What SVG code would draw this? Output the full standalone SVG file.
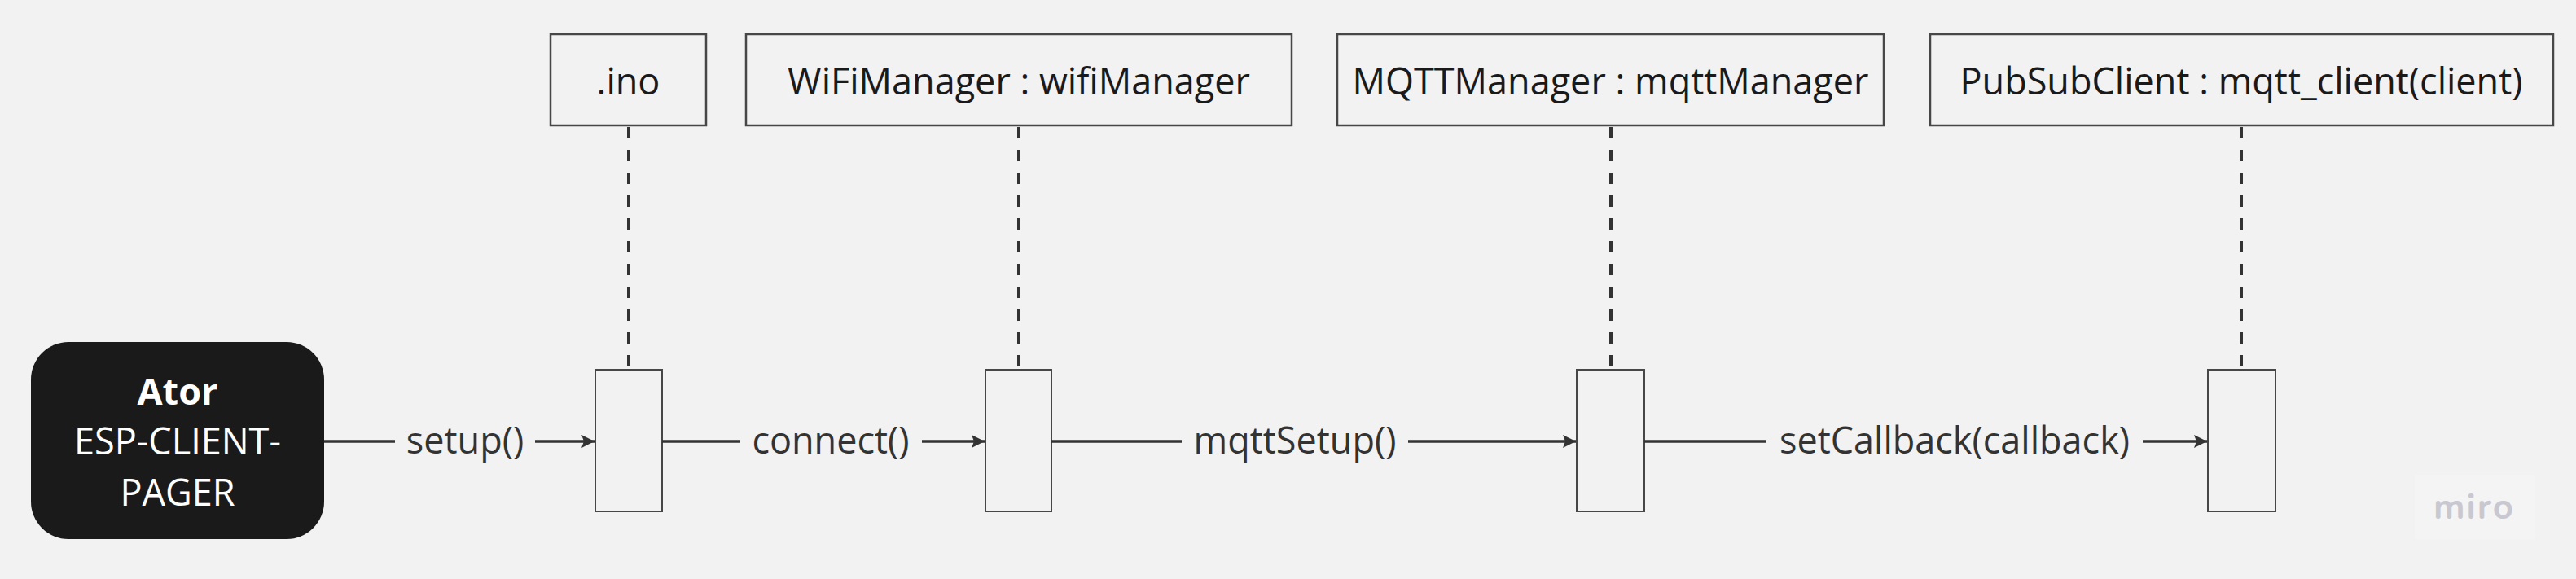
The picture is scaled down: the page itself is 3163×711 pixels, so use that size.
<svg xmlns="http://www.w3.org/2000/svg" width="3163" height="711" viewBox="0 0 3163 711">
<defs>
<style>
.bg{fill:#f2f2f2}
.obj{fill:#f2f2f2;stroke:#474747;stroke-width:2.5}
.act{fill:#f2f2f2;stroke:#474747;stroke-width:2}
.life{stroke:#333;stroke-width:4;stroke-dasharray:14 14;fill:none}
.msg{stroke:#333;stroke-width:3.5;fill:none}
.t{font-family:"Open Sans","Noto Sans","Liberation Sans",sans-serif;font-size:45px;fill:#1a1a1a;text-anchor:middle}
.lbl{font-family:"Open Sans","Noto Sans","Liberation Sans",sans-serif;font-size:45px;fill:#333;text-anchor:middle}
.w{fill:#ffffff}
</style>
<marker id="arr" markerUnits="userSpaceOnUse" markerWidth="20" markerHeight="20" viewBox="0 0 20 20" refX="17" refY="10" orient="auto">
<path d="M1,2 L17,10 L1,18 L4,10 Z" fill="#333"/>
</marker>
</defs>
<rect class="bg" x="0" y="0" width="3163" height="711"/>

<g id="actor">
<rect x="38" y="420" width="360" height="242" rx="46" ry="46" fill="#1a1a1a"/>
<text class="t w" x="218" y="497" font-weight="bold">Ator</text>
<text class="t w" x="218" y="558">ESP-CLIENT-</text>
<text class="t w" x="218" y="621">PAGER</text>
</g>

<g id="ino">
<rect class="obj" x="676" y="42" width="191" height="112"/>
<text class="t" x="771.5" y="116">.ino</text>
<line class="life" x1="772" y1="156" x2="772" y2="454"/>
<rect class="act" x="731" y="454" width="82" height="174"/>
</g>

<g id="wifiManager">
<rect class="obj" x="916" y="42" width="670" height="112"/>
<text class="t" x="1251" y="116">WiFiManager : wifiManager</text>
<line class="life" x1="1251" y1="156" x2="1251" y2="454"/>
<rect class="act" x="1210" y="454" width="81" height="174"/>
</g>

<g id="mqttManager">
<rect class="obj" x="1642" y="42" width="671" height="112"/>
<text class="t" x="1977.5" y="116">MQTTManager : mqttManager</text>
<line class="life" x1="1978" y1="156" x2="1978" y2="454"/>
<rect class="act" x="1936" y="454" width="83" height="174"/>
</g>

<g id="mqttClient">
<rect class="obj" x="2370" y="42" width="765" height="112"/>
<text class="t" x="2752" y="116">PubSubClient : mqtt_client(client)</text>
<line class="life" x1="2752" y1="156" x2="2752" y2="454"/>
<rect class="act" x="2711" y="454" width="83" height="174"/>
</g>

<g id="connectors">
<line class="msg" x1="398" y1="542" x2="485" y2="542"/>
<line class="msg" x1="657" y1="542" x2="730" y2="542" marker-end="url(#arr)"/>
<text class="lbl" x="571" y="557">setup()</text>

<line class="msg" x1="813" y1="542" x2="909" y2="542"/>
<line class="msg" x1="1132" y1="542" x2="1209" y2="542" marker-end="url(#arr)"/>
<text class="lbl" x="1020" y="557">connect()</text>

<line class="msg" x1="1291" y1="542" x2="1451" y2="542"/>
<line class="msg" x1="1729" y1="542" x2="1935" y2="542" marker-end="url(#arr)"/>
<text class="lbl" x="1590" y="557">mqttSetup()</text>

<line class="msg" x1="2019" y1="542" x2="2169" y2="542"/>
<line class="msg" x1="2631" y1="542" x2="2710" y2="542" marker-end="url(#arr)"/>
<text class="lbl" x="2400" y="557">setCallback(callback)</text>
</g>

<g id="watermark">
<rect x="2965" y="583" width="148" height="79" fill="#f4f4f5"/>
<text x="3038" y="637" font-family="Nunito,'Open Sans','Noto Sans',sans-serif" font-size="44" font-weight="bold" fill="#c9c8d1" text-anchor="middle" letter-spacing="2">miro</text>
</g>
</svg>
